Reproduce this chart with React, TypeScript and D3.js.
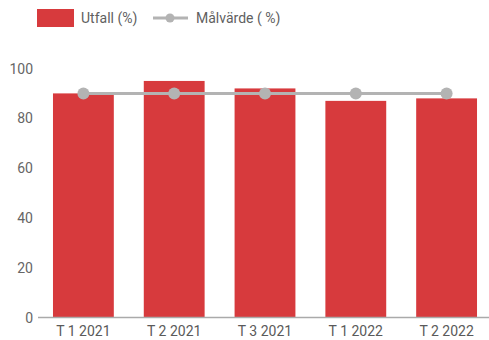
import React from "react";
import * as d3 from "d3";

const categories = ["T 1 2021", "T 2 2021", "T 3 2021", "T 1 2022", "T 2 2022"];
const utfall = [90, 95, 92, 87, 88];
const malvarde = [90, 90, 90, 90, 90];
const yTicks = [0, 20, 40, 60, 80, 100];

const W = 489;
const H = 340;

export default function App() {
  const x = d3.scaleBand<string>().domain(categories).range([38, 492]).paddingInner(0.33).paddingOuter(0.165);
  const y = d3.scaleLinear().domain([0, 100]).range([317.5, 68.5]);
  const line = d3
    .line<number>()
    .x((_, i) => (x(categories[i]) as number) + x.bandwidth() / 2)
    .y((d) => y(d));
  const font = "Roboto, 'Noto Sans', sans-serif";
  return (
    <svg
      width={W}
      height={H}
      style={{ position: "absolute", left: 0, top: 0, background: "#fff" }}
      fontFamily={font}
    >
      {/* legend */}
      <rect x={37} y={9} width={37} height={18} fill="#d73a3d" />
      <text x={81} y={23} fontSize={14} fill="#5f5f5f">Utfall (%)</text>
      <line x1={153} x2={188} y1={18} y2={18} stroke="#b3b3b3" strokeWidth={3} />
      <circle cx={170} cy={18} r={4.5} fill="#b3b3b3" />
      <text x={196} y={23} fontSize={14} fill="#5f5f5f">Målvärde ( %)</text>

      {/* y ticks */}
      {yTicks.map((t) => (
        <text key={t} x={33} y={y(t) + 5} fontSize={14} fill="#666" textAnchor="end">
          {t}
        </text>
      ))}

      {/* bars */}
      {utfall.map((v, i) => (
        <rect
          key={i}
          x={x(categories[i]) as number}
          y={y(v)}
          width={x.bandwidth()}
          height={y(0) - y(v)}
          fill="#d73a3d"
        />
      ))}

      {/* axis line */}
      <line x1={38} x2={489} y1={y(0)} y2={y(0)} stroke="#aaa" strokeWidth={1.5} />

      {/* x labels */}
      {categories.map((c) => (
        <text
          key={c}
          x={(x(c) as number) + x.bandwidth() / 2}
          y={336}
          fontSize={14}
          fill="#5a5a5a"
          textAnchor="middle"
        >
          {c}
        </text>
      ))}

      {/* target line */}
      <path d={line(malvarde) || ""} fill="none" stroke="#b3b3b3" strokeWidth={3} />
      {malvarde.map((v, i) => (
        <circle
          key={i}
          cx={(x(categories[i]) as number) + x.bandwidth() / 2}
          cy={y(v)}
          r={6}
          fill="#b3b3b3"
        />
      ))}
    </svg>
  );
}
